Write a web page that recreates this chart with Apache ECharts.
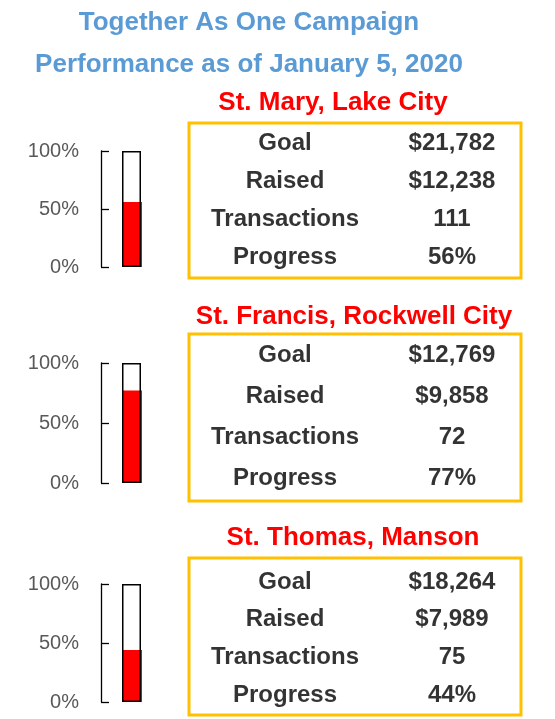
<!DOCTYPE html>
<html>
<head>
<meta charset="utf-8">
<script src="https://cdn.jsdelivr.net/npm/echarts@6/dist/echarts.min.js"></script>
<style>
html,body{margin:0;padding:0;background:#fff;}
#chart{width:555px;height:719px;}
</style>
</head>
<body>
<div id="chart"></div>
<script>
// ---- data ----
var titleLines = ['Together As One Campaign', 'Performance as of January 5, 2020'];
var parishes = ['St. Mary, Lake City', 'St. Francis, Rockwell City', 'St. Thomas, Manson'];
var rowLabels = ['Goal', 'Raised', 'Transactions', 'Progress'];
var goals = [21782, 12769, 18264];
var raised = [12238, 9858, 7989];
var transactions = [111, 72, 75];
var progress = [0.56, 0.77, 0.44];
var axisTicks = [0, 0.5, 1];

// ---- layout (positions only) ----
var FONT = "'Liberation Sans', Arial, sans-serif";
var thermo = [ {top: 151, height: 116}, {top: 363, height: 120}, {top: 584, height: 118} ];
var textGrid = [ {top: 124, height: 152}, {top: 334.5, height: 164}, {top: 563, height: 151} ];
var boxes = [ {y: 123, h: 155}, {y: 334, h: 167}, {y: 558, h: 157} ];
var headers = [ {x: 333, y: 103}, {x: 354, y: 317}, {x: 353, y: 538} ];

function money(v) { return '$' + v.toLocaleString('en-US'); }
function pct(v) { return Math.round(v * 100) + '%'; }

var grids = [], xAxes = [], yAxes = [], series = [], graphics = [];

graphics.push({
  type: 'text', left: 'center', x: 0, y: 0,
  style: { text: '', fill: 'transparent' }
});
titleLines.forEach(function (t, i) {
  graphics.push({
    type: 'text', x: 249, y: 23 + i * 42,
    style: { text: t, font: 'bold 26px ' + FONT, fill: '#5B9BD5', align: 'center', verticalAlign: 'middle' }
  });
});

parishes.forEach(function (name, i) {
  // thermometer grid
  var gi = grids.length;
  grids.push({ left: 101, width: 61, top: thermo[i].top, height: thermo[i].height, containLabel: false });
  xAxes.push({ type: 'category', gridIndex: gi, data: [name], show: false });
  yAxes.push({
    type: 'value', gridIndex: gi, min: axisTicks[0], max: axisTicks[axisTicks.length - 1], interval: axisTicks[1] - axisTicks[0],
    axisLine: { show: true, lineStyle: { color: '#000', width: 1.3 } },
    axisTick: { show: true, inside: true, length: 8, lineStyle: { color: '#000', width: 1.3 } },
    splitLine: { show: false },
    axisLabel: { color: '#595959', fontSize: 20, fontFamily: FONT, margin: 22, formatter: function (v) { return pct(v); } }
  });
  series.push({
    type: 'bar', xAxisIndex: gi, yAxisIndex: gi, data: [1], barWidth: 19, barGap: '-100%',
    itemStyle: { color: '#fff' }, silent: true, animation: false
  });
  series.push({
    type: 'bar', xAxisIndex: gi, yAxisIndex: gi, data: [progress[i]], barWidth: 20, barGap: '-100%',
    itemStyle: { color: '#FF0000' }, silent: true, animation: false
  });
  series.push({
    type: 'bar', xAxisIndex: gi, yAxisIndex: gi, data: [1], barWidth: 19, barGap: '-100%',
    itemStyle: { color: 'rgba(0,0,0,0)', borderColor: '#000', borderWidth: 1.5 }, silent: true, animation: false
  });

  // table grid
  var ti = grids.length;
  grids.push({ left: 201.5, width: 334, top: textGrid[i].top, height: textGrid[i].height });
  xAxes.push({ type: 'category', gridIndex: ti, data: ['label', 'value'], show: false });
  yAxes.push({ type: 'category', gridIndex: ti, data: rowLabels, inverse: true, show: false });
  var values = [money(goals[i]), money(raised[i]), String(transactions[i]), pct(progress[i])];
  var pts = [];
  rowLabels.forEach(function (r, k) {
    pts.push([0, k, r]);
    pts.push([1, k, values[k]]);
  });
  series.push({
    type: 'scatter', xAxisIndex: ti, yAxisIndex: ti, data: pts, symbolSize: 1,
    itemStyle: { color: 'rgba(0,0,0,0)' }, silent: true, animation: false, z: 5,
    label: {
      show: true, position: 'inside', color: '#000', fontSize: 24, fontWeight: 'bold', fontFamily: FONT,
      formatter: function (p) { return p.value[2]; }
    }
  });

  // box and header
  graphics.push({
    type: 'rect', shape: { x: 189, y: boxes[i].y, width: 332, height: boxes[i].h },
    style: { fill: 'rgba(0,0,0,0)', stroke: '#FFC000', lineWidth: 3 }, z: 1
  });
  graphics.push({
    type: 'text', x: headers[i].x, y: headers[i].y,
    style: { text: name, font: 'bold 26px ' + FONT, fill: '#FF0000', align: 'center', verticalAlign: 'middle' }
  });
});

var chart = echarts.init(document.getElementById('chart'), null, { renderer: 'canvas' });
chart.setOption({
  backgroundColor: '#fff',
  animation: false,
  grid: grids,
  xAxis: xAxes,
  yAxis: yAxes,
  series: series,
  graphic: graphics
});
</script>
</body>
</html>
